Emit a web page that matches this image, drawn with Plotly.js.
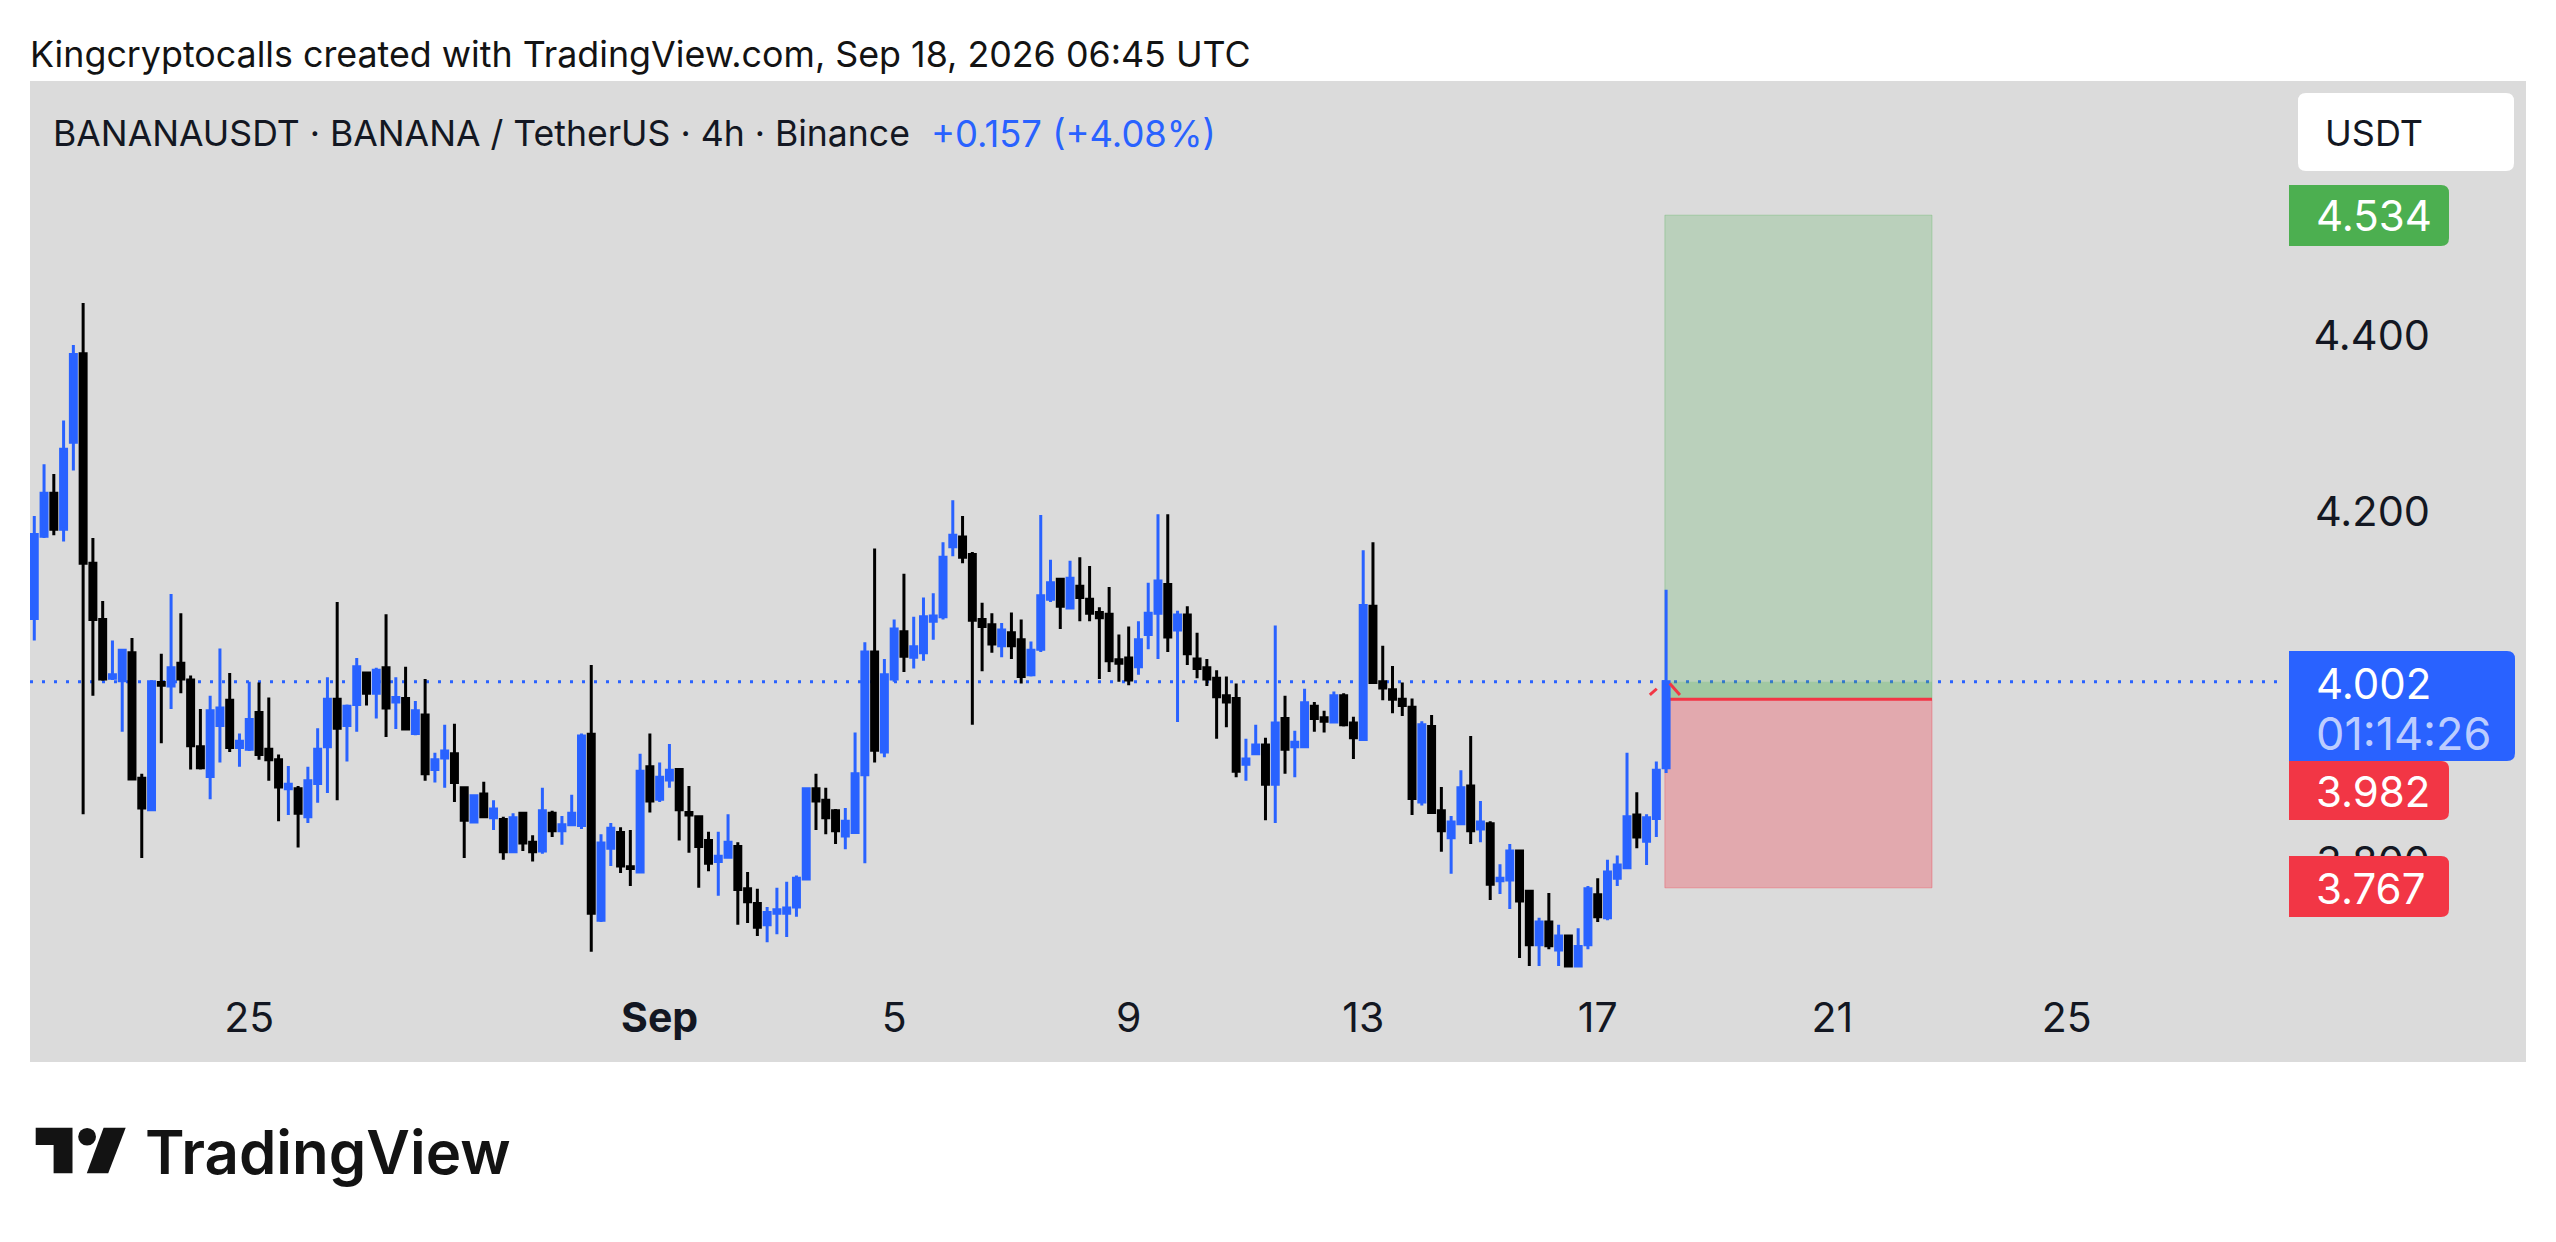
<!DOCTYPE html>
<html>
<head>
<meta charset="utf-8">
<script src="https://cdn.plot.ly/plotly-3.0.1.min.js"></script>
<style>
  html, body { margin: 0; padding: 0; background: #ffffff; }
</style>
</head>
<body>
<div id="chart"></div>
<script>
// 4h candles, oldest first
const firstCandle = Date.UTC(2026, 7, 21, 8);
const candleHours = 4;

const opens = [
  4.074, 4.168, 4.217, 4.176, 4.275, 4.376, 4.137, 4.073, 4.006, 4.003, 4.035, 3.892, 3.856, 4.001,
  3.997, 4.023, 4.004, 3.928, 3.894, 3.952, 3.981, 3.927, 3.925, 3.967, 3.925, 3.913, 3.880, 3.880,
  3.848, 3.886, 3.928, 3.982, 3.952, 3.976, 4.012, 3.989, 4.018, 3.979, 3.983, 3.943, 3.964, 3.902,
  3.915, 3.920, 3.881, 3.842, 3.874, 3.847, 3.845, 3.808, 3.852, 3.819, 3.809, 3.852, 3.832, 3.839,
  3.838, 3.942, 3.730, 3.812, 3.830, 3.791, 3.785, 3.905, 3.868, 3.890, 3.902, 3.853, 3.848, 3.821,
  3.797, 3.802, 3.814, 3.766, 3.749, 3.725, 3.738, 3.738, 3.745, 3.777, 3.880, 3.867, 3.855, 3.826,
  3.830, 3.896, 4.036, 3.922, 4.005, 4.059, 4.030, 4.035, 4.071, 4.076, 4.156, 4.167, 4.147, 4.073,
  4.067, 4.043, 4.058, 4.050, 4.010, 4.039, 4.096, 4.119, 4.086, 4.111, 4.096, 4.081, 4.079, 4.027,
  4.029, 4.019, 4.056, 4.080, 4.113, 4.061, 4.078, 4.028, 4.018, 4.006, 3.986, 3.983, 3.908, 3.920,
  3.930, 3.885, 3.960, 3.928, 3.928, 3.974, 3.961, 3.956, 3.986, 3.955, 3.936, 4.088, 4.002, 3.993,
  3.982, 3.973, 3.865, 3.951, 3.855, 3.824, 3.840, 3.883, 3.834, 3.840, 3.775, 3.776, 3.809, 3.763,
  3.702, 3.728, 3.696, 3.712, 3.678, 3.702, 3.759, 3.733, 3.778, 3.790, 3.850, 3.820, 3.846, 3.904
];
const highs = [
  4.191, 4.250, 4.239, 4.300, 4.386, 4.434, 4.166, 4.094, 4.049, 4.038, 4.052, 3.897, 4.003, 4.034,
  4.102, 4.080, 4.009, 3.971, 3.986, 4.040, 4.012, 3.943, 4.002, 4.001, 3.984, 3.919, 3.906, 3.883,
  3.905, 3.949, 4.007, 4.093, 3.976, 4.029, 4.012, 4.018, 4.079, 4.007, 4.019, 3.980, 4.005, 3.921,
  3.953, 3.954, 3.881, 3.873, 3.888, 3.867, 3.848, 3.852, 3.852, 3.827, 3.881, 3.855, 3.849, 3.873,
  3.943, 4.021, 3.828, 3.841, 3.836, 3.833, 3.920, 3.943, 3.910, 3.931, 3.902, 3.883, 3.848, 3.831,
  3.831, 3.851, 3.819, 3.785, 3.766, 3.745, 3.767, 3.774, 3.781, 3.880, 3.897, 3.881, 3.857, 3.858,
  3.944, 4.047, 4.154, 4.028, 4.073, 4.125, 4.076, 4.098, 4.103, 4.161, 4.209, 4.191, 4.150, 4.092,
  4.080, 4.069, 4.081, 4.073, 4.048, 4.192, 4.141, 4.119, 4.140, 4.144, 4.134, 4.087, 4.110, 4.056,
  4.065, 4.071, 4.115, 4.193, 4.193, 4.083, 4.088, 4.058, 4.028, 4.015, 4.008, 4.000, 3.937, 3.953,
  3.938, 4.066, 3.986, 3.946, 3.994, 3.979, 3.969, 3.991, 3.989, 3.962, 4.152, 4.161, 4.043, 4.020,
  4.001, 3.983, 3.957, 3.964, 3.882, 3.849, 3.901, 3.940, 3.866, 3.843, 3.794, 3.817, 3.809, 3.763,
  3.733, 3.761, 3.725, 3.712, 3.721, 3.769, 3.778, 3.799, 3.804, 3.921, 3.876, 3.851, 3.911, 4.107
];
const lows = [
  4.049, 4.166, 4.169, 4.162, 4.243, 3.851, 3.986, 4.003, 4.004, 3.945, 3.891, 3.801, 3.856, 3.932,
  3.971, 3.989, 3.902, 3.902, 3.868, 3.910, 3.922, 3.905, 3.923, 3.913, 3.889, 3.843, 3.850, 3.813,
  3.841, 3.864, 3.875, 3.867, 3.911, 3.945, 3.975, 3.960, 3.939, 3.948, 3.948, 3.941, 3.889, 3.887,
  3.881, 3.865, 3.801, 3.841, 3.848, 3.833, 3.799, 3.808, 3.809, 3.797, 3.806, 3.825, 3.816, 3.838,
  3.834, 3.694, 3.728, 3.792, 3.784, 3.769, 3.785, 3.853, 3.865, 3.881, 3.821, 3.807, 3.767, 3.786,
  3.758, 3.801, 3.725, 3.727, 3.712, 3.705, 3.714, 3.711, 3.734, 3.777, 3.833, 3.828, 3.817, 3.811,
  3.830, 3.795, 3.910, 3.916, 4.002, 4.013, 4.017, 4.026, 4.050, 4.073, 4.145, 4.137, 3.953, 4.014,
  4.035, 4.030, 4.028, 4.000, 4.008, 4.036, 4.093, 4.062, 4.086, 4.071, 4.071, 4.005, 4.013, 4.002,
  3.998, 4.010, 4.039, 4.028, 4.036, 3.956, 4.021, 4.006, 3.997, 3.937, 3.950, 3.893, 3.889, 3.920,
  3.844, 3.841, 3.897, 3.893, 3.928, 3.945, 3.944, 3.955, 3.951, 3.914, 3.936, 4.001, 3.981, 3.966,
  3.963, 3.850, 3.861, 3.853, 3.808, 3.783, 3.840, 3.817, 3.819, 3.753, 3.760, 3.743, 3.687, 3.678,
  3.678, 3.697, 3.678, 3.678, 3.678, 3.697, 3.728, 3.730, 3.769, 3.790, 3.812, 3.793, 3.825, 3.898
];
const closes = [
  4.170, 4.217, 4.176, 4.267, 4.375, 4.137, 4.073, 4.005, 4.010, 4.038, 3.891, 3.858, 4.002, 3.998,
  4.018, 4.005, 3.929, 3.904, 3.969, 3.972, 3.927, 3.934, 3.959, 3.919, 3.913, 3.882, 3.885, 3.852,
  3.889, 3.925, 3.982, 3.949, 3.974, 4.019, 3.989, 4.015, 3.972, 3.984, 3.948, 3.969, 3.897, 3.913,
  3.923, 3.887, 3.844, 3.872, 3.848, 3.857, 3.808, 3.847, 3.818, 3.808, 3.855, 3.832, 3.839, 3.852,
  3.940, 3.738, 3.818, 3.835, 3.792, 3.789, 3.900, 3.866, 3.893, 3.901, 3.856, 3.850, 3.814, 3.795,
  3.803, 3.819, 3.765, 3.751, 3.722, 3.739, 3.742, 3.744, 3.778, 3.880, 3.866, 3.847, 3.832, 3.843,
  3.897, 4.036, 3.924, 4.010, 4.062, 4.031, 4.042, 4.076, 4.077, 4.144, 4.169, 4.144, 4.072, 4.065,
  4.045, 4.061, 4.043, 4.008, 4.038, 4.100, 4.115, 4.088, 4.120, 4.098, 4.080, 4.075, 4.026, 4.023,
  4.004, 4.050, 4.080, 4.117, 4.053, 4.078, 4.034, 4.017, 4.005, 3.985, 3.979, 3.900, 3.914, 3.930,
  3.885, 3.955, 3.925, 3.933, 3.978, 3.960, 3.957, 3.986, 3.953, 3.938, 4.089, 4.001, 3.995, 3.982,
  3.975, 3.869, 3.953, 3.853, 3.832, 3.842, 3.881, 3.832, 3.842, 3.771, 3.778, 3.809, 3.752, 3.702,
  3.728, 3.701, 3.712, 3.678, 3.700, 3.766, 3.734, 3.785, 3.793, 3.848, 3.825, 3.847, 3.901, 4.002
];

const dateTicks = ["2026-08-25", "2026-09-01", "2026-09-05", "2026-09-09", "2026-09-13", "2026-09-17", "2026-09-21", "2026-09-25"];
const dateLabels = ["25", "<b>Sep</b>", "5", "9", "13", "17", "21", "25"];
const priceTicks = [3.8, 4.0, 4.2, 4.4];

const lastPrice = 4.002;
const takeProfit = 4.534;
const entryPrice = 3.982;
const stopLoss = 3.767;

const BLUE = "#2962FF";
const RED = "#F23645";
const GREEN = "#4CAF50";
const INK = "#131722";
const FONT = "Inter, 'Noto Sans', sans-serif";

// plot panel in page pixels
const PANEL = { left: 30, right: 2526, top: 81, bottom: 1062 };
const panelX = x => (x - PANEL.left) / (PANEL.right - PANEL.left);
const panelY = y => (PANEL.bottom - y) / (PANEL.bottom - PANEL.top);

const dates = opens.map((_, i) => new Date(firstCandle + i * candleHours * 3600000).toISOString());

function pixelLabel(text, x, y, size, color, extra = {}) {
    return Object.assign({
        text: text,
        xref: "paper", yref: "paper",
        x: panelX(x), y: panelY(y),
        xanchor: "left", yanchor: "middle",
        showarrow: false,
        font: { family: FONT, size: size, color: color }
    }, extra);
}

// price tag: square on the left, rounded on the right
function tagShape(x0, x1, y0, y1, color, roundLeft = false) {
    const r = 8;
    const left = roundLeft
        ? `M${panelX(x0 + r)},${panelY(y0)}`
        : `M${panelX(x0)},${panelY(y0)}`;
    const right = `L${panelX(x1 - r)},${panelY(y0)} Q${panelX(x1)},${panelY(y0)} ${panelX(x1)},${panelY(y0 + r)} ` +
        `L${panelX(x1)},${panelY(y1 - r)} Q${panelX(x1)},${panelY(y1)} ${panelX(x1 - r)},${panelY(y1)} `;
    const back = roundLeft
        ? `L${panelX(x0 + r)},${panelY(y1)} Q${panelX(x0)},${panelY(y1)} ${panelX(x0)},${panelY(y1 - r)} ` +
          `L${panelX(x0)},${panelY(y0 + r)} Q${panelX(x0)},${panelY(y0)} ${panelX(x0 + r)},${panelY(y0)} Z`
        : `L${panelX(x0)},${panelY(y1)} Z`;
    return {
        type: "path", xref: "paper", yref: "paper", layer: "above",
        path: left + " " + right + back,
        fillcolor: color, line: { width: 0 }
    };
}

function logoPath(points, color) {
    const d = points.map((p, i) => `${i === 0 ? "M" : "L"}${panelX(p[0])},${panelY(p[1])}`).join(" ") + " Z";
    return { type: "path", xref: "paper", yref: "paper", path: d, fillcolor: color, line: { width: 0 } };
}

const rectStart = "2026-09-18 03:30";
const rectEnd = "2026-09-22 16:50";

const shapes = [
    // long position box
    { type: "rect", layer: "below", x0: rectStart, x1: rectEnd, y0: entryPrice, y1: takeProfit,
      fillcolor: "rgba(76,175,80,0.23)", line: { color: "rgba(76,175,80,0.3)", width: 1 } },
    { type: "rect", layer: "below", x0: rectStart, x1: rectEnd, y0: stopLoss, y1: entryPrice,
      fillcolor: "rgba(242,54,69,0.3)", line: { color: "rgba(242,54,69,0.35)", width: 1 } },
    { type: "rect", layer: "below", x0: rectStart, x1: rectEnd, y0: entryPrice, y1: lastPrice,
      fillcolor: "rgba(76,175,80,0.23)", line: { width: 0 } },
    { type: "line", layer: "below", x0: rectStart, x1: rectEnd, y0: entryPrice, y1: entryPrice,
      line: { color: RED, width: 3 } },
    // last price line
    { type: "line", layer: "below", xref: "paper", x0: 0, x1: panelX(2280), y0: lastPrice, y1: lastPrice,
      line: { color: BLUE, width: 3, dash: "3px,9px" } },
    // entry arrow pieces
    { type: "line", layer: "above", x0: "2026-09-17 21:20", x1: "2026-09-18 00:10", y0: 3.987, y1: 3.994,
      line: { color: RED, width: 3 } },
    { type: "line", layer: "above", x0: "2026-09-18 05:30", x1: "2026-09-18 09:40", y0: 4.000, y1: 3.987,
      line: { color: RED, width: 3 } },
    // right side tags
    tagShape(2298, 2514, 93, 171, "#FFFFFF", true),
    tagShape(2289, 2449, 185, 246, GREEN),
    tagShape(2289, 2449, 761, 820, RED),
    tagShape(2289, 2449, 856, 917, RED),
    tagShape(2289, 2515, 651, 761, BLUE),
    // logo
    logoPath([[35.7, 1127.7], [72.5, 1127.7], [72.5, 1173.3], [53.6, 1173.3], [53.6, 1145], [35.7, 1145]], "#131313"),
    logoPath([[103.6, 1127.7], [125.7, 1127.7], [108.2, 1173.3], [86.8, 1173.3]], "#131313"),
    { type: "circle", xref: "paper", yref: "paper",
      x0: panelX(78.2), x1: panelX(96), y0: panelY(1128), y1: panelY(1145.6),
      fillcolor: "#131313", line: { width: 0 } }
];

const annotations = [
    pixelLabel("Kingcryptocalls created with TradingView.com, Sep 18, 2026 06:45 UTC", 28, 54, 35.8, "#131313"),
    pixelLabel("BANANAUSDT · BANANA / TetherUS · 4h · Binance", 51, 134, 35.6, INK),
    pixelLabel("+0.157 (+4.08%)", 929, 134, 36.4, BLUE),
    pixelLabel("USDT", 2323, 133, 36, INK),
    pixelLabel("4.534", 2314, 216, 42, "#FFFFFF"),
    pixelLabel("4.002", 2314, 683, 42, "#FFFFFF"),
    pixelLabel("01:14:26", 2314, 733, 45, "rgba(255,255,255,0.7)"),
    pixelLabel("3.982", 2314, 791, 42, "#FFFFFF"),
    pixelLabel("3.767", 2314, 888, 42, "#FFFFFF"),
    pixelLabel("TradingView", 143, 1152, 60, "#131313", { font: { family: FONT, size: 60, color: "#131313", weight: 600 } })
];

const candles = {
    type: "candlestick",
    x: dates, open: opens, high: highs, low: lows, close: closes,
    increasing: { line: { color: BLUE, width: 3 }, fillcolor: BLUE },
    decreasing: { line: { color: "#000000", width: 3 }, fillcolor: "#000000" },
    whiskerwidth: 0,
    hoverinfo: "skip",
    showlegend: false
};

const layout = {
    width: 2556,
    height: 1242,
    margin: { l: PANEL.left, r: 2556 - PANEL.right, t: PANEL.top, b: 1242 - PANEL.bottom },
    paper_bgcolor: "#FFFFFF",
    plot_bgcolor: "#DBDBDB",
    boxgap: 0.39,
    boxgroupgap: 0,
    showlegend: false,
    font: { family: FONT, color: INK, size: 38 },
    xaxis: {
        type: "date",
        range: ["2026-08-21 06:15", "2026-10-02 20:00"],
        rangeslider: { visible: false },
        tickmode: "array",
        tickvals: dateTicks,
        ticktext: dateLabels,
        ticklabelposition: "inside",
        ticklabelstandoff: 19,
        showgrid: false, zeroline: false, showline: false, ticks: "",
        tickfont: { family: FONT, size: 41, color: INK },
        fixedrange: true
    },
    yaxis: {
        side: "right",
        range: [3.5684, 4.687],
        tickmode: "array",
        tickvals: priceTicks,
        tickformat: ".3f",
        ticklabelposition: "inside",
        ticklabelstandoff: 93,
        ticklabelshift: 3,
        showgrid: false, zeroline: false, showline: false, ticks: "",
        tickfont: { family: FONT, size: 41.5, color: INK },
        fixedrange: true
    },
    shapes: shapes,
    annotations: annotations
};

Plotly.newPlot("chart", [candles], layout, { displayModeBar: false, staticPlot: true });
</script>
</body>
</html>
